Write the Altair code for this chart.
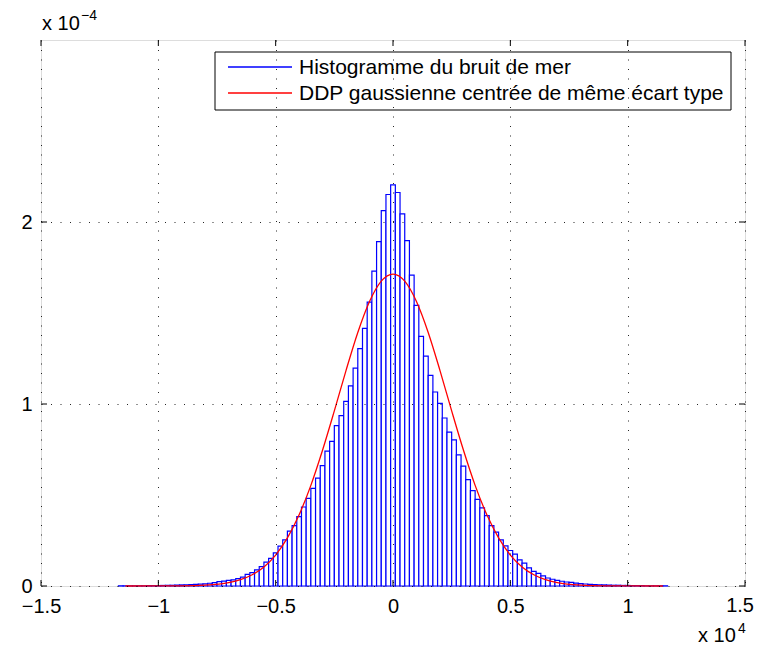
import altair as alt
import numpy as np
import pandas as pd

# Histogram bin centers (x, in units of 1e4) and densities (y, in units of 1e-4)
BIN_CENTERS = [round(v, 2) for v in np.arange(-58, 59) * 0.02]
HEIGHTS_LEFT = [
    0.001, 0.001, 0.001, 0.001, 0.001, 0.001, 0.002, 0.002, 0.002, 0.003, 0.003, 0.004, 0.005,
    0.006, 0.007, 0.008, 0.009, 0.010, 0.012,
    0.015, 0.018, 0.024, 0.027, 0.031, 0.034, 0.040, 0.049, 0.064, 0.073,
    0.089, 0.106, 0.131, 0.152, 0.182, 0.219, 0.253, 0.301, 0.332, 0.381,
    0.434, 0.482, 0.536, 0.593, 0.661, 0.741, 0.795, 0.881, 0.936, 1.014,
    1.100, 1.197, 1.304, 1.416, 1.560, 1.730, 1.892, 2.063, 2.151,
]
HEIGHT_CENTER = [2.204]
HEIGHTS_RIGHT = [
    2.162, 2.045, 1.898, 1.708, 1.542, 1.372, 1.263, 1.157, 1.066,
    1.003, 0.923, 0.845, 0.803, 0.721, 0.659, 0.584, 0.524, 0.476, 0.429,
    0.387, 0.332, 0.296, 0.253, 0.221, 0.195, 0.175, 0.144, 0.126, 0.100,
    0.080, 0.069, 0.056, 0.044, 0.037, 0.031, 0.026, 0.022, 0.020, 0.016,
    0.013, 0.011, 0.009, 0.008, 0.007, 0.006,
    0.005, 0.004, 0.004, 0.003, 0.003, 0.002, 0.002, 0.002, 0.001, 0.001, 0.001, 0.001, 0.001,
]
HEIGHTS = HEIGHTS_LEFT + HEIGHT_CENTER + HEIGHTS_RIGHT
BIN_WIDTH = 0.02

# Red curve: points
CURVE_X = [-1.14, -1.0, -0.9, -0.8, -0.7, -0.65, -0.6, -0.55, -0.5, -0.45, -0.4, -0.35, -0.3, -0.25,
           -0.2, -0.15, -0.1, -0.05, 0.0, 0.05, 0.1, 0.15, 0.2, 0.25, 0.3, 0.35, 0.4, 0.45, 0.5,
           0.55, 0.6, 0.65, 0.7, 0.8, 0.9, 1.0, 1.15]
CURVE_Y = [0.0, 0.0002, 0.001, 0.005, 0.019, 0.035, 0.062, 0.105, 0.170, 0.264, 0.391, 0.553, 0.747,
           0.962, 1.185, 1.393, 1.563, 1.675, 1.714, 1.675, 1.563, 1.393, 1.185, 0.962, 0.747, 0.553,
           0.391, 0.264, 0.170, 0.105, 0.062, 0.035, 0.019, 0.005, 0.001, 0.0002, 0.0]

X_TICKS = [-1.5, -1.0, -0.5, 0.0, 0.5, 1.0, 1.5]
X_LAST_LABEL = ["1.5"]
Y_TICKS = [0, 1, 2]
LEGEND_LABELS = ["Histogramme du bruit de mer", "DDP gaussienne centrée de même écart type"]
LEGEND_COLORS = ["#0000FF", "#FF0000"]

W, H = 704, 546
FONT = "Liberation Sans"

hist_df = pd.DataFrame({"center": BIN_CENTERS, "density": HEIGHTS})
curve_df = pd.DataFrame({"x": CURVE_X, "y": CURVE_Y})

xscale = alt.Scale(domain=[-1.5, 1.5], nice=False, zero=False)
yscale = alt.Scale(domain=[0, 3], nice=False)

xaxis = alt.Axis(values=X_TICKS, format="~r", title=None, ticks=False, domain=False,
                 grid=True, gridColor="#000000", gridDash=[1, 8.5], gridOpacity=0.85,
                 labelExpr="datum.value >= 1.5 ? '' : datum.label",
                 labelFont=FONT, labelFontSize=20, labelColor="#000000", labelPadding=10,
                 labelFlush=False, zindex=1)
yaxis = alt.Axis(values=Y_TICKS, format="~r", title=None, ticks=False, domain=False,
                 grid=True, gridColor="#000000", gridDash=[1, 8.5], gridOpacity=0.85,
                 labelFont=FONT, labelFontSize=20, labelColor="#000000", labelPadding=9,
                 labelFlush=False, zindex=1)

bars = alt.Chart(hist_df).transform_calculate(
    left=f"datum.center - {BIN_WIDTH / 2}",
    right=f"datum.center + {BIN_WIDTH / 2}",
).mark_bar(fill="#FFFFFF", stroke=LEGEND_COLORS[0], strokeWidth=1.2).encode(
    x=alt.X("left:Q", scale=xscale, axis=xaxis),
    x2="right:Q",
    y=alt.Y("density:Q", scale=yscale, axis=yaxis),
    y2=alt.datum(0),
)

curve = alt.Chart(curve_df).mark_line(color=LEGEND_COLORS[1], strokeWidth=1.3,
                                      interpolate="monotone").encode(
    x=alt.X("x:Q", scale=xscale),
    y=alt.Y("y:Q", scale=yscale),
)

xt_df = pd.DataFrame({"t": X_TICKS})
yt_df = pd.DataFrame({"t": Y_TICKS})
tick_style = dict(color="#000000", strokeWidth=1)
xt_bottom = alt.Chart(xt_df).mark_rule(**tick_style).encode(
    x=alt.X("t:Q", scale=xscale), y=alt.value(H), y2=alt.value(H - 6))
xt_top = alt.Chart(xt_df).mark_rule(**tick_style).encode(
    x=alt.X("t:Q", scale=xscale), y=alt.value(0), y2=alt.value(6))
yt_left = alt.Chart(yt_df).mark_rule(**tick_style).encode(
    y=alt.Y("t:Q", scale=yscale), x=alt.value(0), x2=alt.value(6))
yt_right = alt.Chart(yt_df).mark_rule(**tick_style).encode(
    y=alt.Y("t:Q", scale=yscale), x=alt.value(W), x2=alt.value(W - 6))

# Last x tick label drawn as a text mark (kept inside the page)
last_lab = alt.Chart(pd.DataFrame({"t": [X_TICKS[-1]], "s": X_LAST_LABEL})).mark_text(
    align="right", baseline="top", font=FONT, fontSize=20, color="#000000", dx=9
).encode(x=alt.X("t:Q", scale=xscale), y=alt.value(H + 10), text="s:N")

# Legend
one = alt.Data(values=[{}])
leg_box = alt.Chart(one).mark_rect(fill="#FFFFFF", stroke="#000000", strokeWidth=1).encode(
    x=alt.value(174), x2=alt.value(690), y=alt.value(12), y2=alt.value(70))
ROW_Y = [27, 53]
leg_lines = [
    alt.Chart(one).mark_rule(strokeWidth=1.4, color=c).encode(
        x=alt.value(187), x2=alt.value(251), y=alt.value(yy))
    for c, yy in zip(LEGEND_COLORS, ROW_Y)
]
leg_text = [
    alt.Chart(one).mark_text(align="left", baseline="middle", font=FONT, fontSize=21,
                             color="#000000").encode(
        x=alt.value(258), y=alt.value(yy + 0.5), text=alt.value(s))
    for s, yy in zip(LEGEND_LABELS, ROW_Y)
]

# Exponent annotations
def txt(s, x, y, size):
    return alt.Chart(one).mark_text(align="left", baseline="alphabetic", font=FONT,
                                    fontSize=size, color="#000000").encode(
        x=alt.value(x), y=alt.value(y), text=alt.value(s))

ann = [
    txt("x 10", 1, -10, 20),
    txt("\u22124", 40, -20, 14),
    txt("x 10", 657, 602, 20),
    txt("4", 697, 593, 14),
]

chart = alt.layer(
    bars, curve, xt_bottom, xt_top, yt_left, yt_right, last_lab, leg_box,
    *leg_lines, *leg_text, *ann
).properties(
    width=W, height=H,
    autosize=alt.AutoSizeParams(type="none"),
    padding={"left": 33, "top": 32, "right": 9, "bottom": 59},
).configure_view(stroke="#000000", strokeWidth=1).configure(background="#FFFFFF")

chart.save("out.html", embed_options={"renderer": "svg", "actions": False})
